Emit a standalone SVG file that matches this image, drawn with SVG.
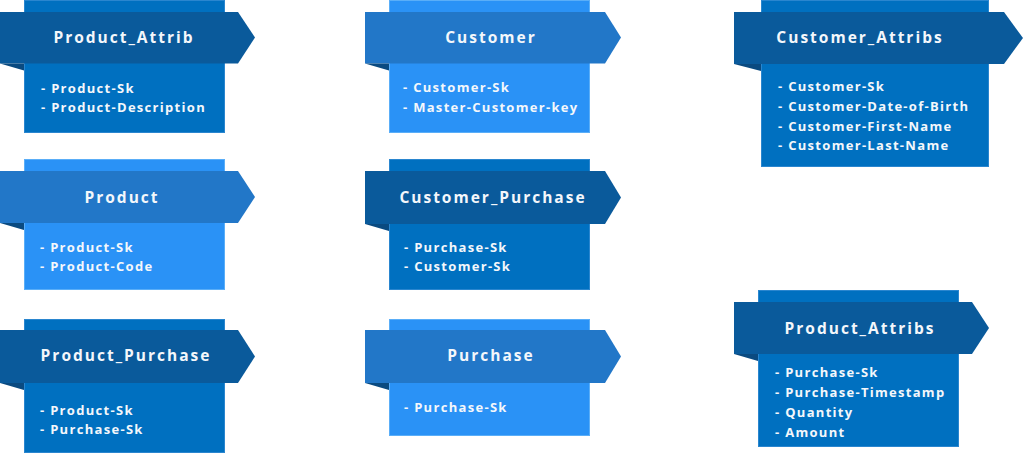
<svg xmlns="http://www.w3.org/2000/svg" width="1024" height="455" viewBox="0 0 1024 455">
<style>
.bg{fill:#ffffff}
.boxD{fill:#0070c0;stroke:#2a86cf;stroke-width:1}
.boxL{fill:#2a92f6;stroke:#5aaef8;stroke-width:1}
.banD{fill:#0a5a9b}
.banL{fill:#2277c8}
.fold{fill:#0a4a80}
.title{font-family:"Open Sans","Liberation Sans",sans-serif;font-weight:700;font-size:15.5px;letter-spacing:2px;fill:#f4f7fb;text-anchor:middle}
.item{font-family:"Open Sans","Liberation Sans",sans-serif;font-weight:700;font-size:13px;letter-spacing:1.3px;fill:#f4f7fb}
</style>
<rect class="bg" x="0" y="0" width="1024" height="455"/>
<g id="connectors"></g>

<g id="product_attrib">
<rect class="boxD" x="24.5" y="0.5" width="200" height="132"/>
<polygon class="banD" points="0,12 238,12 255,37.5 238,63.5 0,63.5"/>
<polygon class="fold" points="0,63.5 24,63.5 24,70.5"/>
<text class="title" x="124" y="43">Product_Attrib</text>
<text class="item" x="41" y="92.5">- Product-Sk</text>
<text class="item" x="41" y="111.5">- Product-Description</text>
</g>

<g id="customer">
<rect class="boxL" x="389.5" y="0.5" width="200" height="132"/>
<polygon class="banL" points="365,12 605,12 621,37.5 605,63.5 365,63.5"/>
<polygon class="fold" points="365,63.5 389,63.5 389,70.5"/>
<text class="title" x="491" y="43">Customer</text>
<text class="item" x="403" y="91.5">- Customer-Sk</text>
<text class="item" x="403" y="111.5">- Master-Customer-key</text>
</g>

<g id="customer_attribs">
<rect class="boxD" x="761.5" y="0.5" width="227" height="166"/>
<polygon class="banD" points="734,12 1004,12 1023,38 1004,64 734,64"/>
<polygon class="fold" points="734,64 761,64 761,71"/>
<text class="title" x="860" y="43">Customer_Attribs</text>
<text class="item" x="778" y="91">- Customer-Sk</text>
<text class="item" x="778" y="110.7">- Customer-Date-of-Birth</text>
<text class="item" x="778" y="130.5">- Customer-First-Name</text>
<text class="item" x="778" y="150.3">- Customer-Last-Name</text>
</g>

<g id="product">
<rect class="boxL" x="24.5" y="159.5" width="200" height="130"/>
<polygon class="banL" points="0,171 238,171 255,197 238,223 0,223"/>
<polygon class="fold" points="0,223 24,223 24,230"/>
<text class="title" x="122" y="202.5">Product</text>
<text class="item" x="40" y="251.5">- Product-Sk</text>
<text class="item" x="40" y="270.5">- Product-Code</text>
</g>

<g id="customer_purchase">
<rect class="boxD" x="389.5" y="159.5" width="200" height="130"/>
<polygon class="banD" points="365,171 605,171 621,197.5 605,224 365,224"/>
<polygon class="fold" points="365,224 389,224 389,231"/>
<text class="title" x="493" y="202.5">Customer_Purchase</text>
<text class="item" x="404" y="251.5">- Purchase-Sk</text>
<text class="item" x="404" y="270.5">- Customer-Sk</text>
</g>

<g id="product_purchase">
<rect class="boxD" x="24.5" y="319.5" width="200" height="133"/>
<polygon class="banD" points="0,330 238,330 255,356.5 238,383 0,383"/>
<polygon class="fold" points="0,383 24,383 24,390"/>
<text class="title" x="126" y="360.5">Product_Purchase</text>
<text class="item" x="40" y="414.5">- Product-Sk</text>
<text class="item" x="40" y="433.5">- Purchase-Sk</text>
</g>

<g id="purchase">
<rect class="boxL" x="389.5" y="319.5" width="200" height="116"/>
<polygon class="banL" points="365,330 605,330 621,356.5 605,383 365,383"/>
<polygon class="fold" points="365,383 389,383 389,390"/>
<text class="title" x="491" y="361">Purchase</text>
<text class="item" x="404" y="411.5">- Purchase-Sk</text>
</g>

<g id="product_attribs">
<rect class="boxD" x="758.5" y="290.5" width="200" height="156"/>
<polygon class="banD" points="734,302 972,302 989,328 972,354 734,354"/>
<polygon class="fold" points="734,354 758,354 758,361"/>
<text class="title" x="860" y="333.5">Product_Attribs</text>
<text class="item" x="775" y="376.5">- Purchase-Sk</text>
<text class="item" x="775" y="396.5">- Purchase-Timestamp</text>
<text class="item" x="775" y="416.5">- Quantity</text>
<text class="item" x="775" y="436.5">- Amount</text>
</g>
</svg>
